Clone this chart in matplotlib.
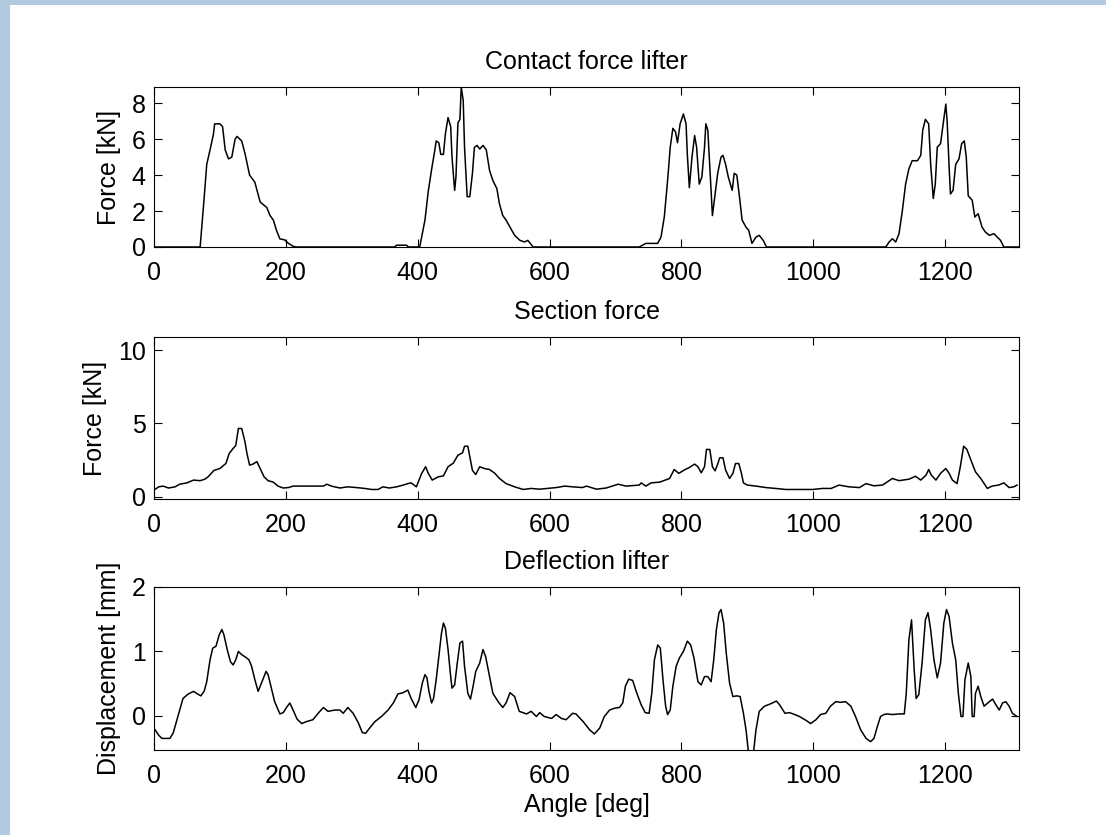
import matplotlib
matplotlib.use('Agg')
import matplotlib.pyplot as plt
from matplotlib.patches import Rectangle

plt.rcParams['font.family'] = ['Liberation Sans', 'DejaVu Sans']

# contact force on the lifter [kN] vs angle [deg]
contact_angle = [0, 60, 70, 76, 80, 85, 90, 92, 100, 104, 108, 113, 118, 123, 126, 133, 138,
                 145, 153, 161, 171, 176, 181, 186, 191, 198, 204, 211, 216,
                 365, 368, 375, 383, 386, 403, 405, 411, 416, 421, 426, 428, 432, 435, 439,
                 442, 446, 450, 452, 456, 458, 461, 464, 466, 469, 471, 475, 479, 483, 486,
                 490, 494, 499, 504, 509, 514, 520, 524, 529, 534, 540, 547, 555, 562, 567,
                 575, 736, 746, 754, 764, 769, 774, 779, 783, 787, 791, 794, 798, 803, 807,
                 809, 812, 816, 820, 823, 827, 831, 835, 837, 840, 843, 847, 851, 855, 860,
                 863, 867, 871, 877, 880, 884, 888, 892, 898, 902, 907, 913, 918, 924, 929,
                 1110, 1115, 1120, 1125, 1130, 1135, 1140, 1145, 1150, 1158, 1163, 1166,
                 1170, 1175, 1178, 1182, 1185, 1188, 1193, 1197, 1201, 1203, 1206, 1208,
                 1212, 1216, 1221, 1225, 1229, 1232, 1235, 1241, 1245, 1250, 1256, 1261,
                 1267, 1274, 1279, 1284, 1289, 1312]
contact_force = [0, 0, 0, 2.7, 4.6, 5.4, 6.25, 6.85, 6.85, 6.7, 5.4, 4.9, 5.0, 6.0, 6.15, 5.9, 5.2,
                 4.0, 3.6, 2.5, 2.2, 1.75, 1.5, 0.9, 0.45, 0.4, 0.2, 0.04, 0,
                 0, 0.1, 0.1, 0.1, 0, 0, 0.37, 1.5, 3.1, 4.3, 5.4, 5.9, 5.8, 5.15, 5.15,
                 6.3, 7.2, 6.7, 5.0, 3.15, 3.9, 6.9, 7.1, 8.9, 8.15, 5.55, 2.8, 2.8, 4.1, 5.55,
                 5.65, 5.45, 5.65, 5.4, 4.25, 3.7, 3.25, 2.4, 1.75, 1.5, 1.1, 0.65, 0.37, 0.28, 0.37,
                 0, 0, 0.2, 0.2, 0.2, 0.55, 1.67, 3.7, 5.55, 6.6, 6.4, 5.8, 6.85, 7.4, 6.85,
                 5.1, 3.3, 5.0, 6.2, 5.55, 3.5, 3.9, 5.55, 6.85, 6.5, 4.45, 1.75, 2.95, 4.1, 5.0,
                 5.1, 4.6, 3.9, 3.15, 4.1, 4.0, 2.8, 1.5, 1.1, 0.93, 0.2, 0.55, 0.65, 0.37, 0,
                 0, 0.28, 0.46, 0.28, 0.74, 2.0, 3.5, 4.35, 4.8, 4.8, 5.1, 6.5,
                 7.1, 6.85, 4.6, 2.7, 3.5, 5.55, 5.75, 6.85, 7.95, 7.0, 4.45, 2.95,
                 3.15, 4.6, 4.9, 5.75, 5.9, 5.0, 2.85, 2.6, 1.67, 1.85, 1.1, 0.83,
                 0.65, 0.74, 0.55, 0.37, 0, 0]

# section force [kN]
section_angle = [0, 7, 14, 22, 32, 39, 50, 60, 70, 77, 82, 91, 100, 109, 114, 120, 124, 128, 133,
                 138, 141, 145, 150, 156, 161, 167, 173, 181, 188, 196, 204, 211, 257, 262,
                 269, 282, 294, 307, 320, 330, 340, 347, 357, 368, 378, 385, 390, 398, 406,
                 412, 416, 422, 431, 439, 446, 454, 461, 468, 471, 476, 479, 483, 488, 494,
                 501, 509, 517, 524, 534, 547, 560, 572, 585, 597, 610, 623, 635, 650, 656,
                 671, 686, 704, 716, 736, 739, 746, 754, 767, 782, 789, 796, 804, 812, 820,
                 825, 830, 835, 838, 843, 847, 851, 855, 858, 863, 867, 873, 878, 882, 887,
                 891, 894, 900, 913, 928, 943, 958, 979, 999, 1014, 1027, 1039, 1054, 1070,
                 1080, 1092, 1105, 1120, 1130, 1145, 1155, 1163, 1171, 1175, 1179, 1186,
                 1193, 1201, 1206, 1211, 1218, 1223, 1228, 1233, 1241, 1246, 1254, 1264,
                 1271, 1281, 1289, 1297, 1304, 1309]
section_force = [0.45, 0.68, 0.73, 0.6, 0.68, 0.86, 0.95, 1.14, 1.1, 1.2, 1.36, 1.8, 1.93, 2.27, 2.95,
                 3.3, 3.5, 4.66, 4.66, 3.75, 2.95, 2.16, 2.23, 2.4, 1.93, 1.36, 1.1, 1.0, 0.73,
                 0.6, 0.63, 0.73, 0.73, 0.86, 0.73, 0.6, 0.68, 0.63, 0.57, 0.5, 0.5, 0.68, 0.6,
                 0.68, 0.8, 0.9, 0.95, 0.68, 1.6, 2.05, 1.6, 1.14, 1.36, 1.43, 2.05, 2.3, 2.84,
                 3.0, 3.45, 3.45, 2.73, 1.8, 1.52, 2.05, 1.93, 1.86, 1.6, 1.25, 0.9, 0.68, 0.5,
                 0.57, 0.52, 0.57, 0.63, 0.73, 0.68, 0.63, 0.73, 0.52, 0.6, 0.86, 0.73, 0.8,
                 0.95, 0.73, 0.95, 1.0, 1.25, 1.86, 1.6, 1.82, 2.0, 2.23, 2.05, 1.64, 2.05,
                 3.23, 3.23, 2.05, 1.77, 2.23, 2.66, 2.66, 1.82, 1.25, 1.6, 2.27, 2.27, 1.6,
                 0.95, 0.8, 0.73, 0.63, 0.57, 0.5, 0.5, 0.5, 0.57, 0.57, 0.8, 0.68, 0.63, 0.9,
                 0.75, 0.8, 1.25, 1.1, 1.2, 1.4, 1.14, 1.48, 1.86, 1.48, 1.14, 1.6, 1.93, 1.6,
                 1.14, 0.9, 2.05, 3.45, 3.23, 2.27, 1.7, 1.25, 0.57, 0.73, 0.8, 0.95, 0.63,
                 0.68, 0.8]

# lifter deflection [mm]
deflect_angle = [0, 2, 7, 12, 24, 29, 34, 39, 44, 52, 60, 66, 71, 76, 80, 85, 89, 94, 99, 103,
                 106, 111, 116, 120, 124, 128, 133, 139, 144, 148, 153, 158, 163, 170, 173,
                 178, 183, 191, 196, 201, 206, 211, 217, 224, 231, 241, 249, 257, 264, 274,
                 282, 287, 294, 302, 310, 316, 321, 327, 335, 345, 355, 363, 370, 378, 385,
                 390, 397, 402, 407, 411, 414, 417, 421, 424, 428, 432, 436, 439, 442, 446,
                 450, 452, 456, 460, 464, 468, 471, 476, 480, 484, 488, 494, 499, 503, 508,
                 514, 522, 529, 534, 540, 547, 554, 565, 572, 580, 585, 592, 603, 610, 618,
                 625, 635, 640, 651, 661, 668, 676, 683, 691, 699, 706, 711, 715, 720, 726,
                 732, 739, 745, 751, 755, 759, 764, 768, 772, 776, 779, 783, 787, 792, 797,
                 803, 809, 814, 819, 825, 830, 835, 840, 845, 849, 853, 857, 860, 864, 868,
                 873, 878, 884, 889, 894, 898, 902, 906, 909, 913, 918, 926, 936, 944, 949,
                 957, 964, 972, 979, 989, 996, 1004, 1011, 1019, 1026, 1034, 1041, 1049,
                 1057, 1064, 1072, 1080, 1087, 1092, 1097, 1102, 1107, 1112, 1120, 1130,
                 1138, 1141, 1145, 1149, 1153, 1156, 1160, 1165, 1170, 1174, 1178, 1183,
                 1188, 1193, 1198, 1202, 1206, 1211, 1216, 1220, 1224, 1227, 1230, 1235,
                 1239, 1241, 1244, 1246, 1250, 1254, 1259, 1267, 1272, 1277, 1282, 1287,
                 1292, 1297, 1302, 1309]
deflect_disp = [-0.2, -0.22, -0.3, -0.35, -0.35, -0.27, -0.09, 0.09, 0.27, 0.34, 0.38, 0.34, 0.31,
                0.38, 0.53, 0.87, 1.05, 1.08, 1.26, 1.34, 1.26, 1.03, 0.84, 0.79, 0.87, 1.0,
                0.95, 0.91, 0.87, 0.77, 0.56, 0.38, 0.51, 0.69, 0.64, 0.43, 0.22, 0.03, 0.05,
                0.13, 0.2, 0.09, -0.05, -0.12, -0.09, -0.06, 0.04, 0.13, 0.07, 0.09, 0.09, 0.04,
                0.13, 0.04, -0.11, -0.26, -0.27, -0.19, -0.09, -0.01, 0.09, 0.2, 0.34, 0.36,
                0.4, 0.27, 0.13, 0.25, 0.51, 0.64, 0.59, 0.38, 0.2, 0.27, 0.56, 0.92, 1.28,
                1.44, 1.36, 1.03, 0.61, 0.43, 0.48, 0.82, 1.13, 1.16, 0.77, 0.35, 0.26, 0.46,
                0.69, 0.82, 1.03, 0.92, 0.66, 0.35, 0.22, 0.13, 0.2, 0.36, 0.3, 0.07, 0.03,
                0.07, -0.01, 0.05, -0.01, -0.04, 0.02, -0.04, -0.06, 0.04, 0.03, -0.09, -0.22,
                -0.28, -0.19, -0.01, 0.09, 0.12, 0.13, 0.2, 0.46, 0.57, 0.55, 0.36, 0.17, 0.05,
                0.04, 0.35, 0.87, 1.1, 1.05, 0.56, 0.15, 0.02, 0.09, 0.46, 0.77, 0.9, 1.0, 1.16,
                1.1, 0.9, 0.53, 0.48, 0.61, 0.61, 0.53, 0.87, 1.34, 1.6, 1.65, 1.44, 0.97, 0.51,
                0.3, 0.31, 0.3, 0.04, -0.22, -0.6, -0.6, -0.6, -0.22, 0.07, 0.15, 0.19, 0.23,
                0.17, 0.04, 0.05, 0.02, -0.01, -0.07, -0.12, -0.06, 0.02, 0.04, 0.15, 0.22,
                0.21, 0.22, 0.15, -0.01, -0.22, -0.35, -0.4, -0.35, -0.17, -0.01, 0.02, 0.03,
                0.02, 0.03, 0.03, 0.35, 1.18, 1.49, 0.72, 0.27, 0.33, 0.82, 1.49, 1.6, 1.34,
                0.87, 0.59, 0.82, 1.44, 1.65, 1.54, 1.13, 0.87, 0.35, -0.01, -0.01, 0.56, 0.82,
                0.61, -0.01, -0.01, 0.35, 0.46, 0.3, 0.15, 0.22, 0.26, 0.17, 0.09, 0.2, 0.22,
                0.15, 0.04, -0.01]

xticks = [0, 200, 400, 600, 800, 1000, 1200]

fig = plt.figure(figsize=(11.06, 8.35), dpi=100, facecolor='#b3c9df')
fig.patches.append(Rectangle((10 / 1106, 0), 1, 1 - 5 / 835, transform=fig.transFigure,
                             facecolor='white', edgecolor='none', zorder=-1))

left, width = 154 / 1106, 865 / 1106
panels = [
    (1 - 247 / 835, 160 / 835, contact_angle, contact_force, 'Contact force lifter', 'Force [kN]',
     (0, 8.9), [0, 2, 4, 6, 8]),
    (1 - 499 / 835, 162 / 835, section_angle, section_force, 'Section force', 'Force [kN]',
     (-0.15, 10.9), [0, 5, 10]),
    (1 - 750 / 835, 163 / 835, deflect_angle, deflect_disp, 'Deflection lifter', 'Displacement [mm]',
     (-0.53, 2), [0, 1, 2]),
]

fs = 18
for bottom, height, x, y, title, ylabel, ylim, yticks in panels:
    ax = fig.add_axes([left, bottom, width, height])
    ax.plot(x, y, color='black', linewidth=1.1)
    ax.set_xlim(0, 1312)
    ax.set_ylim(*ylim)
    ax.set_xticks(xticks)
    ax.set_yticks(yticks)
    ax.set_title(title, fontsize=fs, pad=13)
    ax.set_ylabel(ylabel, fontsize=fs, labelpad=8)
    ax.tick_params(direction='in', top=True, right=True, length=6, width=0.8, labelsize=fs)
    ax.tick_params(axis='x', pad=10)
    ax.tick_params(axis='y', pad=6)
    for s in ax.spines.values():
        s.set_linewidth(0.8)

ax.set_xlabel('Angle [deg]', fontsize=fs, labelpad=4)

fig.savefig('out.png', dpi=100)
